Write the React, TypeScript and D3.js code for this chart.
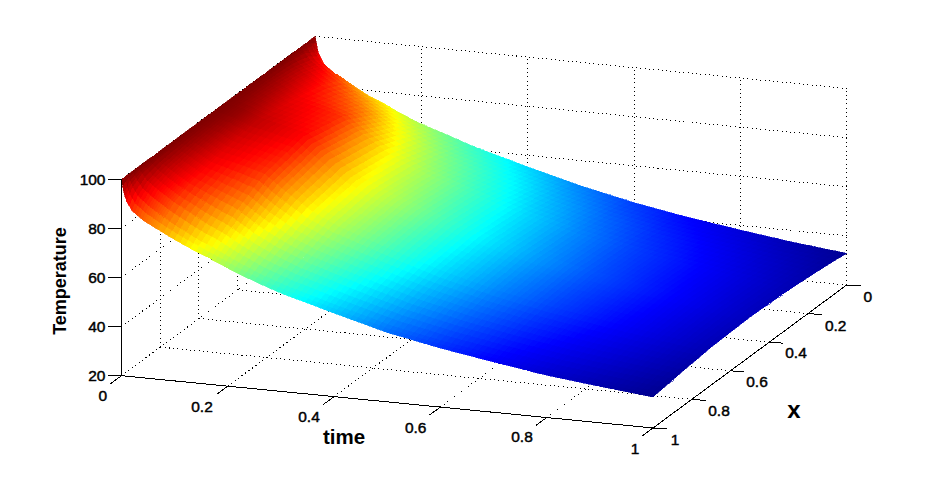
import React from "react";
import * as d3 from "d3";

const times = [0, 0.005, 0.01, 0.02, 0.04, 0.07, 0.1, 0.13, 0.16, 0.2, 0.25, 0.3, 0.4, 0.5, 0.6, 0.7, 0.8, 0.9, 1];
const xs = [1, 0.97, 0.92, 0.84, 0.7, 0.5, 0.3, 0.16, 0.08, 0.03, 0];
const temperature = [
  [100, 100, 100, 100, 100, 100, 100, 100, 100, 100, 100],
  [94, 97.6, 99.1, 99.7, 99.9, 100, 99.9, 99.7, 99.1, 97.6, 94],
  [91, 95, 97.7, 99, 99.5, 99.9, 99.6, 99.1, 97.8, 95.3, 91.5],
  [87.5, 91.7, 95, 97.2, 98.6, 99.6, 98.7, 97.3, 95.2, 92.1, 88],
  [84.2, 88.1, 91.7, 94.3, 96.6, 98.6, 96.7, 94.5, 92.1, 88.7, 85],
  [80.8, 83.8, 87.3, 90.4, 93, 96, 93.1, 90.6, 87.7, 84.4, 81.5],
  [77.5, 80.1, 83.7, 87.4, 91.5, 94.6, 91.6, 87.6, 84, 80.5, 78],
  [74.5, 76.7, 80, 84.5, 89.9, 93, 90, 84.9, 80.6, 77.4, 75.3],
  [71.8, 74, 77, 81.7, 88, 91.6, 88.1, 81.8, 77.1, 74.2, 72],
  [68, 69.7, 72.1, 75.8, 81.6, 85, 81.7, 76.1, 72.5, 70.2, 68.5],
  [63.7, 64.9, 66.9, 70.1, 74.5, 77, 74.7, 70.8, 67.9, 66.1, 65],
  [60, 61.1, 62.9, 65.6, 69.5, 71.7, 69.7, 66.3, 63.9, 62.3, 61.3],
  [54, 54.9, 56.4, 58.8, 62.1, 64, 62.3, 59.5, 57.5, 56.1, 55.3],
  [48.2, 49, 50.4, 52.4, 55.3, 57, 55.6, 53.2, 51.5, 50.4, 49.7],
  [44, 44.7, 45.8, 47.5, 49.8, 51.2, 50, 48, 46.5, 45.6, 45],
  [40.5, 41.1, 42, 43.4, 45.4, 46.5, 45.5, 43.8, 42.5, 41.7, 41.2],
  [37.2, 37.7, 38.6, 40, 41.9, 43, 42.1, 40.5, 39.3, 38.6, 38.1],
  [34.8, 35.2, 36, 37.1, 38.6, 39.5, 38.7, 37.3, 36.3, 35.6, 35.2],
  [32.6, 32.9, 33.4, 34.2, 35.4, 36, 35.4, 34.4, 33.7, 33.2, 32.9],
];
const timeTicks = [0, 0.2, 0.4, 0.6, 0.8, 1];
const xTicks = [0, 0.2, 0.4, 0.6, 0.8, 1];
const zTicks = [20, 40, 60, 80, 100];
const timeLabelPos: [string, number, number][] = [["0", 102.7, 395], ["0.2", 202, 406], ["0.4", 309, 416], ["0.6", 415.7, 427], ["0.8", 522, 436.7], ["1", 635, 448]];
const xLabelPos: [string, number, number][] = [["0", 867.7, 296], ["0.2", 835.7, 325], ["0.4", 796, 352.7], ["0.6", 757, 381.7], ["0.8", 719, 410], ["1", 675, 439]];
const jetStops = [0, 0.125, 0.375, 0.625, 0.875, 1];
const jetColors = ["#00008f", "#0000ff", "#00ffff", "#ffff00", "#ff0000", "#800000"];

const FONT = "'Liberation Sans', Arial, sans-serif";
const tX = d3.scaleLinear().domain([0, 1]).range([0, 531.5]);
const tY = d3.scaleLinear().domain([0, 1]).range([0, 52.3]);
const xX = d3.scaleLinear().domain([1, 0]).range([0, 193.7]);
const xY = d3.scaleLinear().domain([1, 0]).range([0, -143]);
const zY = d3.scaleLinear().domain([20, 100]).range([0, -196.5]);
const ORIGIN_X = 121.5;
const ORIGIN_Y = 375.7;
const px = (t: number, x: number) => ORIGIN_X + tX(t) + xX(x);
const py = (t: number, x: number, z: number) => ORIGIN_Y + tY(t) + xY(x) + zY(z);
const jet = d3
  .scaleLinear<string>()
  .domain(jetStops.map((s) => 32.6 + s * (100 - 32.6)))
  .range(jetColors)
  .interpolate(d3.interpolateRgb)
  .clamp(true);

const rowScales = temperature.map((r) => d3.scaleLinear().domain(xs).range(r));
const tempAt = (t: number, x: number) => {
  const col = d3.scaleLinear().domain(times).range(rowScales.map((s) => s(x)));
  return col(t);
};

function surfaceCells() {
  const tSteps: number[] = [];
  for (let i = 0; i < times.length - 1; i++) {
    const n = Math.max(1, Math.ceil((times[i + 1] - times[i]) * 100));
    const m = n * (i < 5 ? 2 : 1);
    for (let k = 0; k < m; k++) tSteps.push(times[i] + ((times[i + 1] - times[i]) * k) / m);
  }
  tSteps.push(1);
  const xSteps: number[] = [];
  for (let i = 0; i < xs.length - 1; i++) {
    const n = Math.max(1, Math.ceil((xs[i] - xs[i + 1]) * 35));
    for (let k = 0; k < n; k++) xSteps.push(xs[i] + ((xs[i + 1] - xs[i]) * k) / n);
  }
  xSteps.push(0);
  const grid = tSteps.map((t) => xSteps.map((x) => tempAt(t, x)));
  const cells: { d: string; c: string }[] = [];
  for (let i = 0; i < tSteps.length - 1; i++) {
    for (let j = xSteps.length - 2; j >= 0; j--) {
      const t0 = tSteps[i], t1 = tSteps[i + 1], x0 = xSteps[j], x1 = xSteps[j + 1];
      const a = grid[i][j], b = grid[i][j + 1], c = grid[i + 1][j + 1], e = grid[i + 1][j];
      const pts = [[t0, x0, a], [t0, x1, b], [t1, x1, c], [t1, x0, e]];
      cells.push({
        d: "M" + pts.map((p) => `${px(p[0], p[1]).toFixed(1)},${py(p[0], p[1], p[2]).toFixed(1)}`).join("L") + "Z",
        c: jet((a + b + c + e) / 4),
      });
    }
  }
  return cells;
}

const Dot = ({ a, b }: { a: number[]; b: number[] }) => (
  <line x1={a[0]} y1={a[1]} x2={b[0]} y2={b[1]} stroke="#000" strokeWidth={1} strokeDasharray="1 3.3" shapeRendering="crispEdges" />
);
const Solid = ({ a, b }: { a: number[]; b: number[] }) => (
  <line x1={a[0]} y1={a[1]} x2={b[0]} y2={b[1]} stroke="#000" strokeWidth={1} shapeRendering="crispEdges" />
);
const P = (t: number, x: number, z: number) => [px(t, x), py(t, x, z)];

export default function App() {
  const cells = surfaceCells();
  return (
    <svg width={937} height={481} style={{ position: "absolute", left: 0, top: 0, background: "#fff" }} fontFamily={FONT}>
      <g>
        {timeTicks.map((t) => (
          <g key={"gt" + t}>
            <Dot a={P(t, 1, 20)} b={P(t, 0, 20)} />
            <Dot a={P(t, 0, 20)} b={P(t, 0, 100)} />
          </g>
        ))}
        {xTicks.map((x) => (
          <g key={"gx" + x}>
            <Dot a={P(0, x, 20)} b={P(1, x, 20)} />
            <Dot a={P(0, x, 20)} b={P(0, x, 100)} />
          </g>
        ))}
        {zTicks.map((z) => (
          <g key={"gz" + z}>
            <Dot a={P(0, 1, z)} b={P(0, 0, z)} />
            <Dot a={P(0, 0, z)} b={P(1, 0, z)} />
          </g>
        ))}
      </g>
      <g shapeRendering="crispEdges">
        {cells.map((c, i) => (
          <path key={i} d={c.d} fill={c.c} stroke={c.c} strokeWidth={0.6} />
        ))}
      </g>
      <g>
        <Solid a={P(0, 1, 20)} b={P(0, 1, 100)} />
        <Solid a={P(0, 1, 20)} b={P(1, 1, 20)} />
        <Solid a={P(1, 1, 20)} b={P(1, 0, 20)} />
        {timeTicks.map((t) => {
          const a = P(t, 1, 20);
          return <Solid key={"tt" + t} a={a} b={[a[0] - 11, a[1] + 8]} />;
        })}
        {xTicks.map((x) => {
          const a = P(1, x, 20);
          return <Solid key={"tx" + x} a={a} b={[a[0] + 14, a[1] + 1]} />;
        })}
        {zTicks.map((z) => {
          const a = P(0, 1, z);
          return <Solid key={"tz" + z} a={a} b={[a[0] - 14, a[1]]} />;
        })}
      </g>
      <g fontSize={15.5} fill="#000" stroke="#000" strokeWidth={0.45}>
        {zTicks.map((z) => (
          <text key={z} x={105.5} y={py(0, 1, z)} dy="0.36em" textAnchor="end">{z}</text>
        ))}
        {timeLabelPos.map(([s, x, y]) => (
          <text key={"lt" + s} x={x} y={y} dy="0.36em" textAnchor="middle">{s}</text>
        ))}
        {xLabelPos.map(([s, x, y]) => (
          <text key={"lx" + s} x={x} y={y} dy="0.36em" textAnchor="middle">{s}</text>
        ))}
      </g>
      <text x={344} y={437} dy="0.36em" textAnchor="middle" fontSize={20.5} fontWeight="bold">time</text>
      <text x={794} y={411} dy="0.3em" textAnchor="middle" fontSize={24} fontWeight="bold">x</text>
      <text transform="translate(60,281) rotate(-90)" dy="0.36em" textAnchor="middle" fontSize={18} fontWeight="bold">Temperature</text>
    </svg>
  );
}
